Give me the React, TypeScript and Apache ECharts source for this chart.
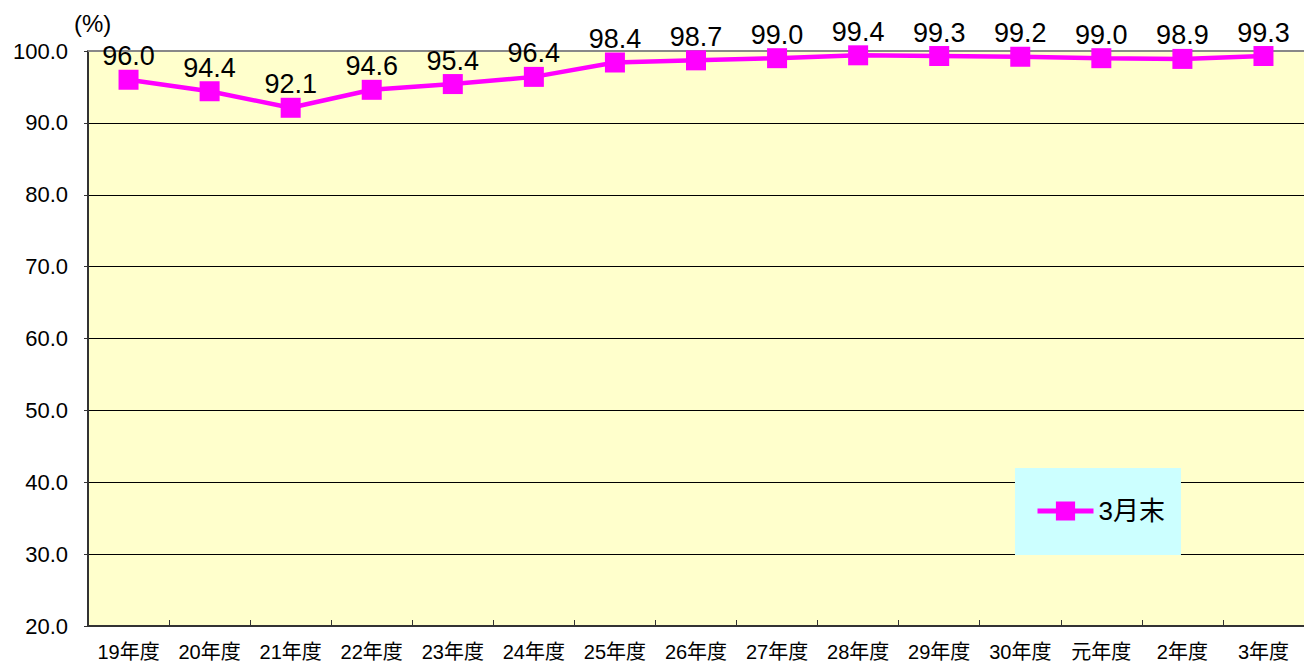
import React, { useEffect, useRef } from "react";
import * as echarts from "echarts";

const categories = ["19年度", "20年度", "21年度", "22年度", "23年度", "24年度", "25年度", "26年度", "27年度", "28年度", "29年度", "30年度", "元年度", "2年度", "3年度"];
const values = [96.0, 94.4, 92.1, 94.6, 95.4, 96.4, 98.4, 98.7, 99.0, 99.4, 99.3, 99.2, 99.0, 98.9, 99.3];
const seriesName = "3月末";
const yTicks = { min: 20, max: 100, interval: 10 };

const FONT = "'Liberation Sans', 'Noto Sans CJK JP', sans-serif";

export default function App() {
  const ref = useRef<HTMLDivElement>(null);
  useEffect(() => {
    document.body.style.margin = "0";
    const chart = echarts.init(ref.current!, null, { renderer: "svg" });
    chart.setOption({
      animation: false,
      backgroundColor: "#ffffff",
      textStyle: { fontFamily: FONT },
      grid: { left: 88, top: 51, width: 1219, height: 575, backgroundColor: "#FFFFCC", show: true, borderWidth: 0 },
      legend: {
        left: 1015,
        top: 468,
        backgroundColor: "#CCFFFF",
        padding: [30, 16, 31, 20],
        itemWidth: 56,
        itemHeight: 24,
        itemGap: 0,
        lineStyle: { width: 5 },
        textStyle: { fontSize: 26, color: "#000", fontFamily: FONT },
        data: [{ name: seriesName }],
      },
      xAxis: {
        type: "category",
        data: categories,
        boundaryGap: true,
        axisLine: { lineStyle: { color: "#333", width: 2 } },
        axisTick: { show: true, inside: true, length: 6, lineStyle: { color: "#333" } },
        axisLabel: { fontSize: 20, color: "#000", margin: 16, fontFamily: FONT },
        splitLine: { show: false },
      },
      yAxis: {
        type: "value",
        min: yTicks.min,
        max: yTicks.max,
        interval: yTicks.interval,
        name: "(%)",
        nameLocation: "end",
        nameGap: 16,
        nameTextStyle: { fontSize: 24, color: "#000", align: "left", padding: [0, 0, 0, -14], fontFamily: FONT },
        axisLine: { show: true, lineStyle: { color: "#333", width: 2 } },
        axisTick: { show: true, length: 4, lineStyle: { color: "#333" } },
        axisLabel: { fontSize: 22, color: "#000", margin: 20, formatter: (v: number) => v.toFixed(1) },
        splitLine: { show: true, lineStyle: { color: "#000", width: 1 } },
      },
      series: [
        {
          name: seriesName,
          type: "line",
          data: values,
          color: "#FF00FF",
          lineStyle: { color: "#FF00FF", width: 4.5 },
          itemStyle: { color: "#FF00FF" },
          symbol: "rect",
          symbolSize: 20,
          label: {
            show: true,
            position: "top",
            distance: 0,
            fontSize: 27,
            color: "#000",
            fontFamily: FONT,
            formatter: (p: any) => p.value.toFixed(1),
          },
          z: 5,
        },
      ],
      graphic: [
        {
          type: "line",
          shape: { x1: 88, y1: 51, x2: 1304, y2: 51 },
          style: { stroke: "#888", lineWidth: 2 },
          z: 1,
        },
      ],
    });
    return () => chart.dispose();
  }, []);
  return <div ref={ref} style={{ width: 1304, height: 668 }} />;
}
